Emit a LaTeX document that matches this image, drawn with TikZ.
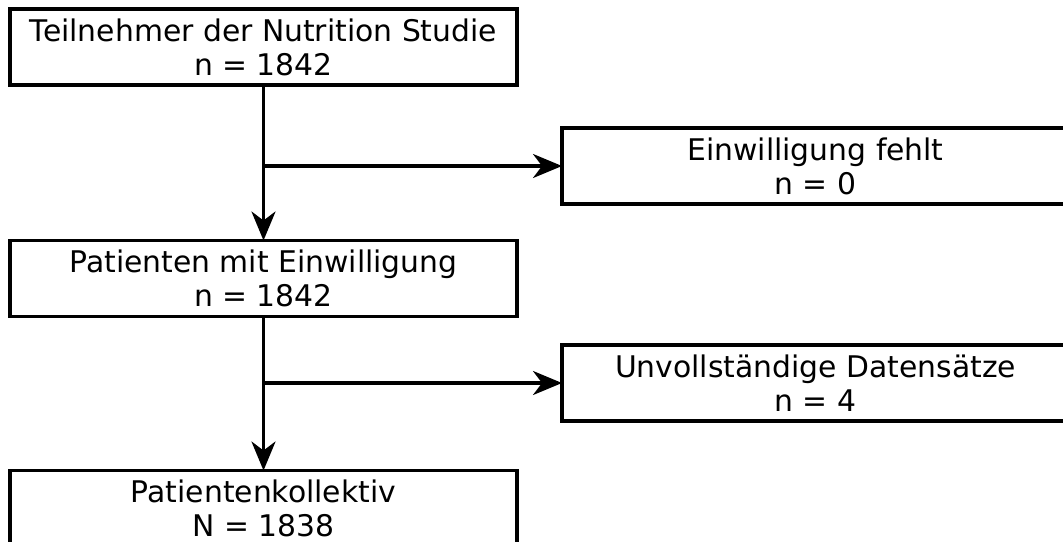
\documentclass[tikz,border=0pt]{standalone}
\usepackage{fontspec}
\setmainfont{DejaVu Sans}
\usetikzlibrary{arrows.meta, positioning}
\tikzset{
  stage/.style = {draw, line width=1.6pt, align=center, outer sep=0pt,
                  font=\fontsize{14.9}{17}\selectfont, inner sep=0pt,
                  minimum width=253.5pt, minimum height=38pt},
  excl/.style  = {stage},
  fl/.style    = {-{Stealth[length=14.5pt, width=12pt, inset=4.5pt]}, line width=1.6pt},
}
\begin{document}
\begin{tikzpicture}
  \useasboundingbox (0,0) rectangle (531.5pt,-270.5pt);
  \node[stage] (part) at (131.75pt,-23.5pt) {Teilnehmer der Nutrition Studie\\n = 1842};
  \node[stage, below=77.75pt of part] (cons) {Patienten mit Einwilligung\\n = 1842};
  \node[stage, below=77pt of cons]    (coll) {Patientenkollektiv\\N = 1838};
  \node[excl, right=22.5pt of part, yshift=-59.5pt]  (nocons) {Einwilligung fehlt\\n = 0};
  \node[excl, right=22.5pt of cons, yshift=-52.25pt] (incomp) {Unvollständige Datensätze\\n = 4};
  \coordinate (j1) at (part.south |- nocons.west);
  \coordinate (j2) at (cons.south |- incomp.west);
  \draw[fl] (part) -- (cons); \draw[fl] (cons) -- (coll);
  \draw[fl] (j1) -- (nocons); \draw[fl] (j2) -- (incomp);
\end{tikzpicture}
\end{document}
